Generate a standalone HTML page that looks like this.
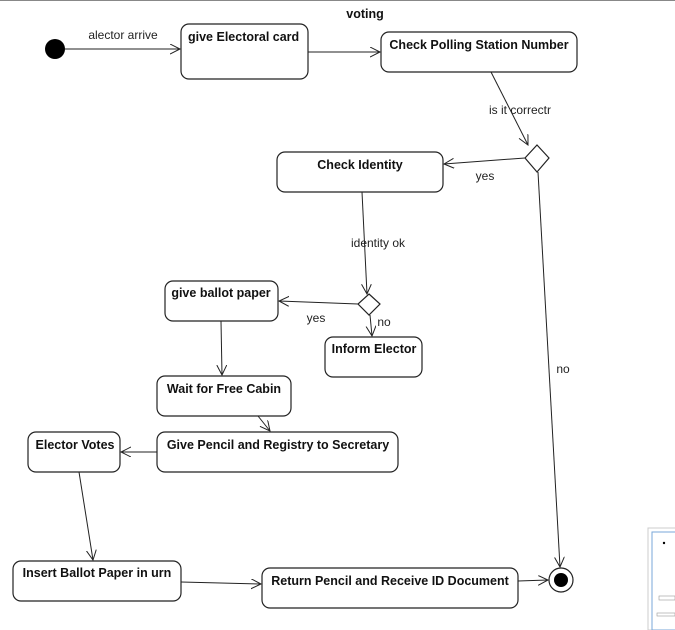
<!DOCTYPE html>
<html><head><style>
body{margin:0;background:#fff;}
svg{display:block;font-family:"Liberation Sans",sans-serif;}
.b{fill:#fff;stroke:#222;stroke-width:1.2;}
.t{font-size:12.5px;font-weight:bold;fill:#111;}
.l{font-size:12px;fill:#222;}
.e{stroke:#222;stroke-width:1;fill:none;}
</style></head><body>
<svg width="675" height="630" viewBox="0 0 675 630">
<defs><marker id="a" markerWidth="12" markerHeight="12" refX="10" refY="5" orient="auto" markerUnits="userSpaceOnUse"><path d="M0,0 L10,5 L0,10" fill="none" stroke="#222" stroke-width="1"/></marker></defs>
<line x1="0" y1="0.5" x2="675" y2="0.5" stroke="#888"/>
<text x="365" y="18" class="t" text-anchor="middle">voting</text>
<circle cx="55" cy="49" r="10" fill="#000"/>
<line class="e" x1="65" y1="49" x2="180" y2="49" marker-end="url(#a)"/>
<text x="123" y="39" class="l" text-anchor="middle">alector arrive</text>
<rect class="b" x="181" y="24" width="127" height="55" rx="8"/>
<text x="188" y="41" class="t">give Electoral card</text>
<line class="e" x1="308" y1="52" x2="380" y2="52" marker-end="url(#a)"/>
<rect class="b" x="381" y="32" width="196" height="40" rx="8"/>
<text x="479" y="49" class="t" text-anchor="middle">Check Polling Station Number</text>
<line class="e" x1="491" y1="72" x2="528" y2="145" marker-end="url(#a)"/>
<text x="520" y="114" class="l" text-anchor="middle">is it correctr</text>
<path d="M537,145 L549,158 L537,172 L525,158 Z" class="b"/>
<line class="e" x1="525" y1="158" x2="444" y2="164" marker-end="url(#a)"/>
<text x="485" y="180" class="l" text-anchor="middle">yes</text>
<line class="e" x1="538" y1="172" x2="560" y2="567" marker-end="url(#a)"/>
<text x="563" y="373" class="l" text-anchor="middle">no</text>
<rect class="b" x="277" y="152" width="166" height="40" rx="8"/>
<text x="360" y="169" class="t" text-anchor="middle">Check Identity</text>
<line class="e" x1="362" y1="192" x2="367" y2="294" marker-end="url(#a)"/>
<text x="378" y="247" class="l" text-anchor="middle">identity ok</text>
<path d="M369,294 L380,304 L369,315 L358,304 Z" class="b"/>
<line class="e" x1="358" y1="304" x2="279" y2="301" marker-end="url(#a)"/>
<text x="316" y="322" class="l" text-anchor="middle">yes</text>
<line class="e" x1="370" y1="315" x2="372" y2="336" marker-end="url(#a)"/>
<text x="384" y="326" class="l" text-anchor="middle">no</text>
<rect class="b" x="165" y="281" width="113" height="40" rx="8"/>
<text x="221" y="297" class="t" text-anchor="middle">give ballot paper</text>
<rect class="b" x="325" y="337" width="97" height="40" rx="8"/>
<text x="374" y="353" class="t" text-anchor="middle">Inform Elector</text>
<line class="e" x1="221" y1="321" x2="222" y2="375" marker-end="url(#a)"/>
<rect class="b" x="157" y="376" width="134" height="40" rx="8"/>
<text x="224" y="393" class="t" text-anchor="middle">Wait for Free Cabin</text>
<line class="e" x1="258" y1="416" x2="270" y2="431" marker-end="url(#a)"/>
<rect class="b" x="157" y="432" width="241" height="40" rx="8"/>
<text x="278" y="449" class="t" text-anchor="middle">Give Pencil and Registry to Secretary</text>
<line class="e" x1="157" y1="452" x2="121" y2="452" marker-end="url(#a)"/>
<rect class="b" x="28" y="432" width="92" height="40" rx="8"/>
<text x="75" y="449" class="t" text-anchor="middle">Elector Votes</text>
<line class="e" x1="79" y1="472" x2="93" y2="560" marker-end="url(#a)"/>
<rect class="b" x="13" y="561" width="168" height="40" rx="8"/>
<text x="97" y="577" class="t" text-anchor="middle">Insert Ballot Paper in urn</text>
<line class="e" x1="181" y1="582" x2="261" y2="584" marker-end="url(#a)"/>
<rect class="b" x="262" y="568" width="256" height="40" rx="8"/>
<text x="390" y="585" class="t" text-anchor="middle">Return Pencil and Receive ID Document</text>
<line class="e" x1="518" y1="581" x2="548" y2="580" marker-end="url(#a)"/>
<circle cx="561" cy="580" r="12" fill="#fff" stroke="#222" stroke-width="1.2"/>
<circle cx="561" cy="580" r="7" fill="#000"/>
<rect x="648" y="528" width="30" height="102" fill="#fff" stroke="#ccc"/>
<rect x="652" y="532" width="26" height="98" fill="#fff" stroke="#7aa7d8"/>
<circle cx="664" cy="543" r="1.2" fill="#000"/>
<rect x="659" y="596" width="16" height="4" fill="none" stroke="#999" stroke-width="0.6"/>
<rect x="657" y="613" width="18" height="3" fill="none" stroke="#999" stroke-width="0.6"/>
</svg>
</body></html>
